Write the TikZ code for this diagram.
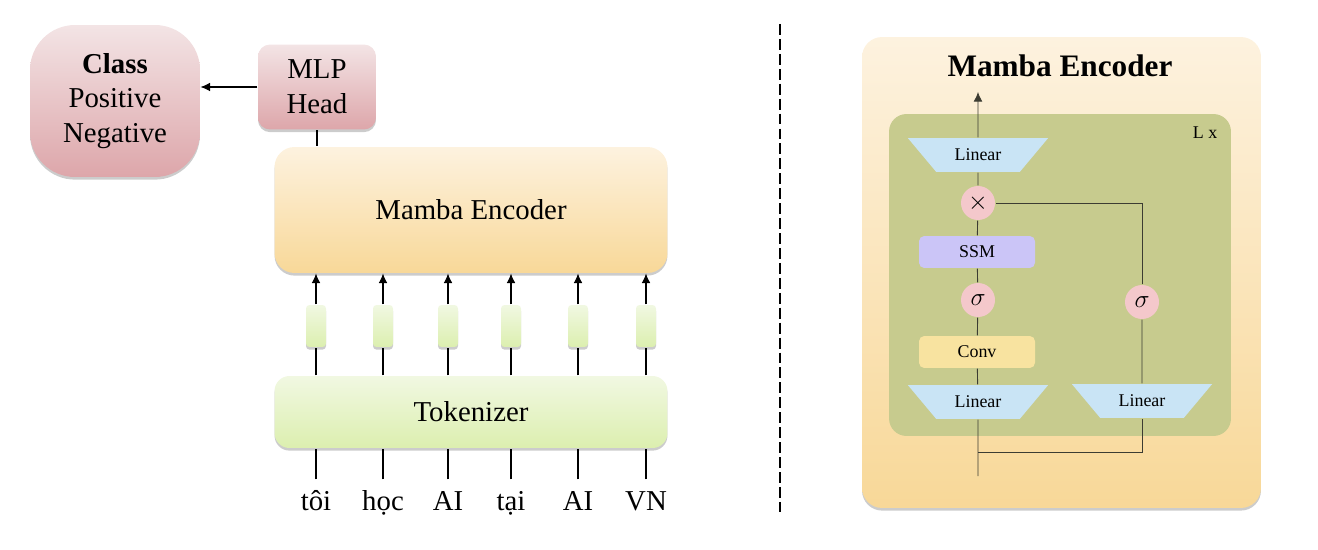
\documentclass[tikz,border=0pt]{standalone}
\usepackage{fontspec}
\setmainfont{Liberation Serif}
\usetikzlibrary{arrows.meta,shapes.geometric,shadows}

\definecolor{pinktop}{HTML}{F3E4E5}
\definecolor{pinkbot}{HTML}{DDA6AA}
\definecolor{sandtop}{HTML}{FDF2DF}
\definecolor{sandbot}{HTML}{F8D898}
\definecolor{leaftop}{HTML}{F1F8E2}
\definecolor{leafbot}{HTML}{DCEFAF}
\definecolor{olive}{HTML}{C7CB8E}
\definecolor{skyblue}{HTML}{C9E4F5}
\definecolor{lilac}{HTML}{CBC5F7}
\definecolor{butter}{HTML}{F8E3A0}
\definecolor{rosy}{HTML}{F4C8CB}
\definecolor{wire}{HTML}{3C3C32}

\tikzset{
  big/.style={font=\fontsize{16.4}{19.8}\selectfont},
  small/.style={font=\fontsize{10.2}{12}\selectfont},
  softshadow/.style={drop shadow={shadow xshift=0pt,shadow yshift=-1.5pt,opacity=.2,fill=black}},
  pinkbox/.style={big,top color=pinktop,bottom color=pinkbot,softshadow,align=center},
  sandbox/.style={top color=sandtop,bottom color=sandbot,softshadow},
  leafbox/.style={top color=leaftop,bottom color=leafbot,softshadow},
  linear/.style={trapezium,shape border rotate=180,trapezium stretches=true,trapezium angle=50,
    fill=skyblue,minimum width=2.82cm,minimum height=0.68cm,small},
  block/.style={rounded corners=3pt,minimum width=2.32cm,minimum height=0.64cm,small},
  op/.style={circle,fill=rosy,minimum size=0.68cm,inner sep=0pt,font=\fontsize{14}{16}\selectfont},
  wired/.style={draw=wire,line width=0.5pt},
  tip/.style={-{Latex[length=5.5pt,width=5pt]}}
}

\begin{document}
\begin{tikzpicture}[x=0.02cm,y=-0.02cm,line width=0.6pt]
\useasboundingbox (0,0) rectangle (1318,550);

% classifier side
\node[pinkbox,minimum width=3.4cm,minimum height=3.04cm,rounded corners=0.9cm] (cls) at (115,101)
  {\textbf{Class}\\Positive\\Negative};
\node[pinkbox,minimum width=2.36cm,minimum height=1.7cm,rounded corners=0.24cm] (mlp) at (317,87)
  {MLP\\Head};
\node[sandbox,big,minimum width=7.86cm,minimum height=2.52cm,rounded corners=0.4cm] (enc) at (471,210)
  {Mamba Encoder};
\node[leafbox,big,minimum width=7.86cm,minimum height=1.44cm,rounded corners=0.3cm] (tok) at (471,412)
  {Tokenizer};

\draw[tip] (mlp.west) -- (mlp.west -| cls.east);
\draw (mlp) -- (mlp |- enc.north);

\foreach \x/\w [count=\i] in {316/tôi,383/học,448/AI,511/tại,578/AI,646/VN}{
  \node[leafbox,minimum width=0.4cm,minimum height=0.84cm,rounded corners=2pt,inner sep=0pt] (e\i) at (\x,326) {};
  \node[big,anchor=base,inner sep=0pt,text height=0.6cm] (w\i) at (\x,510) {\w};
  \draw (w\i.north) -- (w\i.north |- tok.south);
  \draw (tok.north -| e\i) -- (e\i);
  \draw[tip] (e\i) -- (e\i |- enc.south);
}

\draw[dash pattern=on 6.2pt off 2.3pt] (780,24) -- (780,512);

% encoder detail
\node[sandbox,minimum width=7.98cm,minimum height=9.42cm,rounded corners=0.4cm] (panel) at (1061.5,272.5) {};
\node[font=\fontsize{17.8}{20}\selectfont\bfseries] (title) at (1060,66) {Mamba Encoder};
\node[fill=olive,rounded corners=0.35cm,minimum width=6.84cm,minimum height=6.44cm] (layer) at (1060,275) {};
\node[small] (rep) at (1205,133) {L x};

\node[linear] (lin1) at (978,155) {Linear};
\node[op] (mul) at (978,203) {$\times$};
\node[block,fill=lilac] (ssm) at (977,252) {SSM};
\node[op] (sig1) at (978,300) {$\sigma$};
\node[block,fill=butter] (conv) at (977,352) {Conv};
\node[linear] (lin2) at (978,402) {Linear};
\node[linear] (lin3) at (1142,401) {Linear};
\node[op] (sig2) at (1142,302) {$\sigma$};

\coordinate (in) at (978,476);
\coordinate (split) at (978,452);
\coordinate (out) at (978,92);

\draw[wired] (in) -- (lin2);
\draw[wired] (lin2) -- (conv);
\draw[wired] (conv) -- (sig1);
\draw[wired] (sig1) -- (ssm);
\draw[wired] (ssm) -- (mul);
\draw[wired] (mul) -- (lin1);
\draw[wired,tip] (lin1) -- (out);
\draw[wired] (split) -| (lin3);
\draw[wired] (lin3) -- (sig2);
\draw[wired] (sig2) |- (mul);
\end{tikzpicture}
\end{document}
